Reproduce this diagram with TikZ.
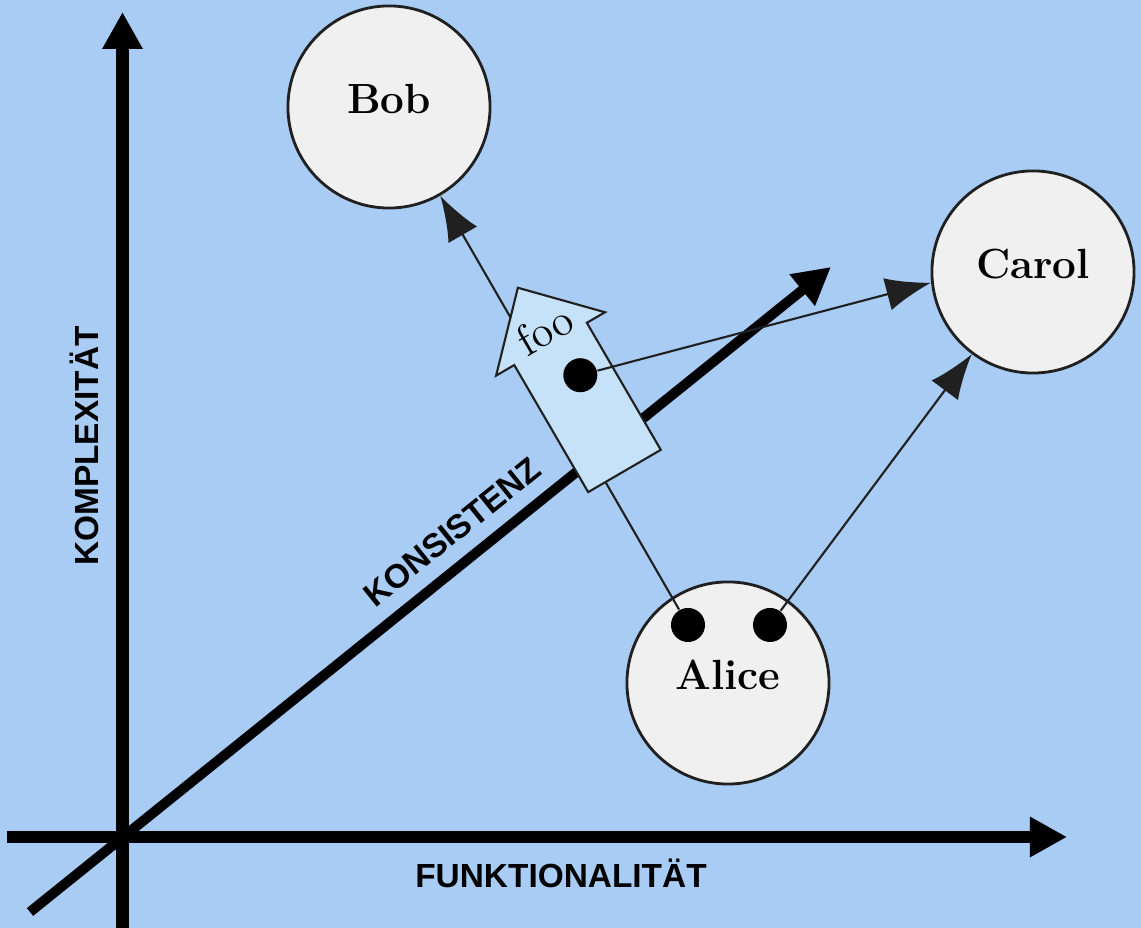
\documentclass[tikz,border=0pt]{standalone}
\usepackage{fontspec}
\setsansfont{Liberation Sans}
\usetikzlibrary{arrows.meta}
\definecolor{bgblue}{HTML}{A8CCF4}
\definecolor{nodegray}{HTML}{F0F0F0}
\definecolor{fooblue}{HTML}{C6E2F8}
\definecolor{edgegray}{HTML}{202020}

\begin{document}
\begin{tikzpicture}[
    x=0.01cm, y=0.01cm,
    axisline/.style={line width=#1, line cap=butt, -{Triangle[length=3.7mm, width=3.8mm]}},
    person/.style={circle, draw=edgegray, line width=0.8pt, fill=nodegray,
        minimum size=2.02cm, inner sep=0pt, text depth=0.16cm,
        font=\fontsize{12}{14}\selectfont\bfseries},
    eye/.style={circle, fill=black, minimum size=0.34cm, inner sep=0pt},
    link/.style={edgegray, line width=0.6pt, -{Latex[length=4.5mm, width=3.3mm]}},
    axislabel/.style={font=\sffamily\bfseries\fontsize{9.5}{11}\selectfont},
]

% Background
\fill[bgblue] (0,0) rectangle (1141,928);
\useasboundingbox (0,0) rectangle (1141,928);

% Axes
\coordinate (ybot) at (122.5,0);
\coordinate (ytop) at (122.5,916);
\coordinate (xleft) at (7,91);
\coordinate (xright) at (1067,91);
\coordinate (zbot) at (30,16);
\coordinate (ztop) at (831,661);

\draw[axisline=3.7pt] (ybot) -- (ytop);
\draw[axisline=3.4pt] (xleft) -- (xright);
\draw[axisline=2.85pt] (zbot) -- (ztop);

\node[axislabel, rotate=90] (komplex) at (84,482) {KOMPLEXITÄT};
\node[axislabel] (funktion) at (561,55) {FUNKTIONALITÄT};
\node[axislabel, rotate=38.8] (konsist) at (452,396) {KONSISTENZ};

% Persons
\node[person] (bob) at (389,821) {Bob};
\node[person] (carol) at (1033,656) {Carol};
\node[person] (alice) at (728,245) {Alice};

\node[eye] (aliceL) at ([shift={(-40,58)}]alice.center) {};
\node[eye] (aliceR) at ([shift={(42,58)}]alice.center) {};

\draw[link] (aliceL) -- (bob);
\draw[link] (aliceR) -- (carol);

% foo arrow
\begin{scope}[shift={(624.5,457)}, rotate=120.2]
  \draw[fill=fooblue, draw=edgegray, line width=0.6pt]
      (0,-42) -- (147,-42) -- (147,-63) -- (212,0) -- (147,63) -- (147,42) -- (0,42) -- cycle;
  \node[eye] (foodot) at (105,-10) {};
  \node[rotate=30.2, font=\fontsize{12.5}{14}\selectfont] (foo) at (162,-2) {foo};
\end{scope}

\draw[link] (foodot) -- (carol.186);

\end{tikzpicture}
\end{document}
